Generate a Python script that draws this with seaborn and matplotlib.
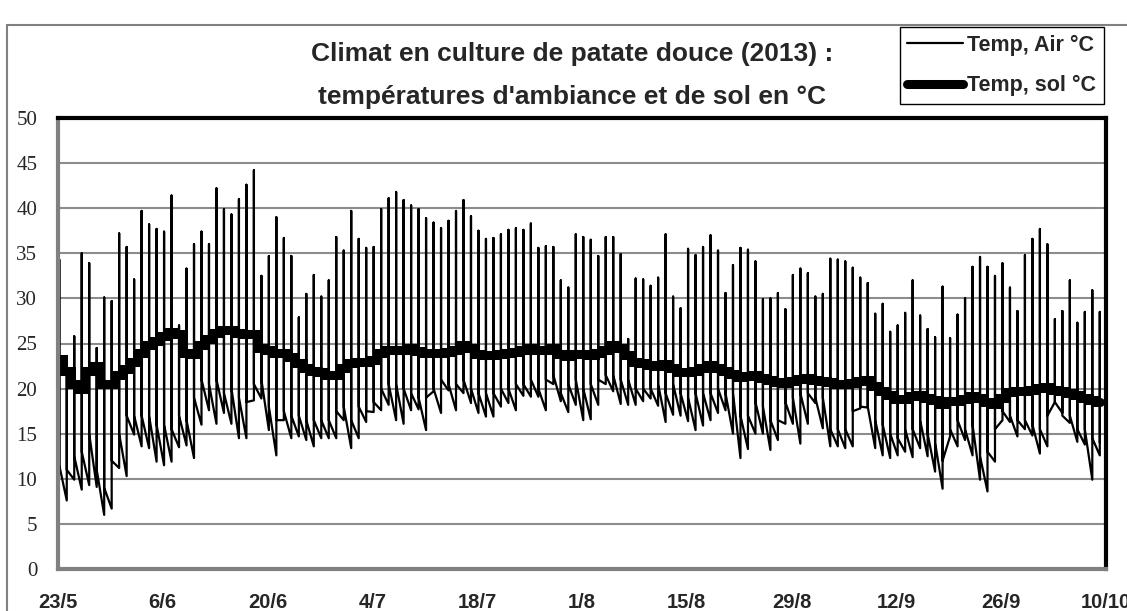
import numpy as np
import pandas as pd
import matplotlib
matplotlib.use("Agg")
import matplotlib.pyplot as plt
from matplotlib.lines import Line2D
import seaborn as sns

# --- data: one value per day, 23/5 -> 9/10 ---
# daily peak of air temperature (°C)
air_max = [34.3, 23.5, 25.8, 35.0, 33.9, 24.5, 30.1, 29.7, 37.2, 35.7, 32.1, 39.7,
           38.2, 37.7, 37.4, 41.4, 27.0, 33.3, 36.0, 37.4, 36.0, 42.2, 39.9, 39.3,
           41.0, 42.6, 44.2, 32.5, 34.7, 39.0, 36.7, 34.7, 27.9, 30.5, 32.6, 30.2,
           32.0, 36.8, 35.3, 39.7, 36.6, 35.6, 35.7, 39.9, 41.1, 41.8, 40.9, 40.3,
           39.9, 38.9, 38.4, 37.8, 38.6, 39.7, 40.9, 39.1, 37.5, 36.6, 36.7, 37.1,
           37.6, 37.8, 37.6, 38.3, 35.6, 35.8, 35.7, 32.0, 31.2, 37.1, 36.8, 36.5,
           34.7, 36.8, 36.8, 34.9, 25.5, 32.2, 32.1, 31.4, 32.3, 37.1, 30.2, 28.9,
           35.5, 34.8, 35.7, 37.0, 35.3, 30.6, 33.7, 35.6, 35.4, 34.1, 29.9, 30.0,
           30.6, 28.8, 32.6, 33.3, 32.8, 30.2, 30.5, 34.4, 34.3, 34.1, 33.4, 32.3,
           31.7, 28.3, 29.4, 26.3, 27.0, 28.4, 32.0, 28.1, 26.6, 25.7, 31.3, 25.6,
           28.2, 30.0, 33.5, 34.6, 33.5, 32.5, 33.9, 31.2, 28.6, 34.8, 36.6, 37.7,
           36.0, 27.7, 28.6, 32.0, 27.3, 28.5, 30.9, 28.5]
# daily minimum just before the peak (°C)
air_min = [11.3, 7.6, 9.9, 8.8, 9.3, 9.1, 6.0, 6.7, 11.2, 10.3, 14.9, 13.6,
           13.4, 11.9, 11.5, 11.9, 13.5, 13.7, 12.3, 16.0, 17.6, 16.1, 17.3, 16.1,
           14.5, 14.5, 18.7, 18.9, 15.4, 12.6, 16.5, 14.5, 14.7, 14.3, 13.6, 14.5,
           14.5, 14.5, 16.5, 13.4, 14.5, 16.3, 17.4, 17.6, 18.2, 16.5, 16.1, 17.6,
           17.7, 15.4, 19.7, 17.3, 19.8, 17.6, 19.5, 18.4, 17.3, 16.9, 16.9, 18.0,
           18.4, 17.6, 19.2, 19.1, 19.1, 17.6, 20.5, 18.6, 17.4, 18.2, 16.5, 16.6,
           18.2, 20.5, 19.7, 18.3, 18.2, 18.2, 18.6, 18.9, 18.1, 16.3, 17.1, 17.0,
           16.4, 15.4, 15.9, 16.5, 17.3, 17.6, 15.0, 12.3, 13.3, 15.0, 15.0, 13.2,
           14.3, 16.1, 16.1, 13.9, 16.1, 18.4, 15.6, 13.6, 13.6, 13.4, 13.6, 17.8,
           17.9, 13.4, 12.6, 12.3, 12.6, 13.0, 12.4, 13.4, 12.5, 10.8, 8.9, 14.7,
           13.6, 14.3, 12.6, 9.9, 8.6, 11.9, 16.5, 16.3, 14.7, 15.5, 14.8, 12.8,
           13.6, 18.5, 17.3, 16.2, 14.1, 13.8, 9.9, 12.6]
# value right after the peak, start of the night decline (°C)
air_eve = [11.5, 11.0, 12.5, 13.0, 15.0, 11.0, 9.0, 12.0, 15.0, 17.0, 17.0, 17.0,
           17.0, 16.0, 16.0, 15.5, 17.0, 16.5, 19.0, 21.0, 20.5, 21.0, 19.5, 20.0,
           19.0, 18.5, 20.5, 21.0, 18.0, 16.5, 17.5, 17.0, 17.0, 16.5, 16.5, 16.5,
           16.5, 17.5, 18.0, 16.5, 18.0, 17.5, 18.5, 20.0, 20.5, 20.5, 20.0, 19.5,
           19.0, 19.0, 20.0, 21.0, 20.5, 20.5, 21.0, 20.0, 19.5, 19.5, 19.5, 20.0,
           20.0, 20.5, 20.5, 21.0, 20.0, 21.0, 21.5, 19.5, 20.5, 21.0, 20.0, 20.5,
           21.0, 21.5, 21.5, 21.0, 21.0, 20.0, 20.0, 20.0, 20.5, 19.5, 20.5, 19.5,
           19.0, 19.5, 19.5, 19.5, 20.0, 19.5, 19.5, 17.0, 17.0, 18.5, 18.0, 16.5,
           16.5, 18.5, 19.0, 19.5, 19.5, 19.0, 19.0, 15.5, 15.5, 15.5, 17.5, 18.0,
           18.0, 16.5, 16.0, 15.0, 14.5, 15.5, 15.5, 16.5, 15.0, 14.0, 12.0, 15.5,
           16.5, 15.5, 16.0, 12.5, 13.0, 15.5, 17.5, 17.0, 16.5, 16.5, 16.0, 15.5,
           17.0, 18.5, 17.0, 17.0, 15.5, 15.5, 14.5, 14.0]
# soil temperature (°C)
soil = [23.3, 22.0, 20.5, 20.0, 22.0, 22.5, 20.5, 20.5, 21.5, 22.2, 23.0, 24.0,
        24.8, 25.3, 25.8, 26.3, 26.0, 24.0, 23.8, 24.8, 25.5, 26.2, 26.5, 26.5,
        26.2, 26.0, 26.0, 24.5, 24.3, 24.0, 24.0, 23.5, 22.8, 22.3, 22.0, 21.8,
        21.5, 21.5, 22.3, 22.8, 23.0, 23.0, 23.2, 24.0, 24.3, 24.3, 24.3, 24.5,
        24.2, 23.9, 23.9, 24.0, 24.1, 24.3, 24.8, 24.5, 23.8, 23.7, 23.7, 23.8,
        24.0, 24.1, 24.3, 24.5, 24.3, 24.3, 24.5, 23.8, 23.6, 23.8, 23.8, 23.7,
        24.0, 24.3, 24.8, 24.5, 23.7, 23.0, 22.8, 22.6, 22.5, 22.7, 22.3, 21.8,
        21.8, 22.0, 22.3, 22.6, 22.3, 21.9, 21.6, 21.3, 21.4, 21.5, 21.2, 20.9,
        20.7, 20.6, 20.8, 21.1, 21.2, 21.0, 20.8, 20.7, 20.5, 20.5, 20.6, 20.8,
        21.0, 20.3, 19.7, 19.3, 18.9, 18.8, 19.2, 19.3, 19.0, 18.7, 18.3, 18.6,
        18.6, 18.9, 19.2, 19.0, 18.5, 18.3, 19.0, 19.6, 19.7, 19.7, 19.9, 20.1,
        20.2, 19.9, 19.7, 19.5, 19.3, 19.0, 18.7, 18.5]

tick_labels = ["23/5", "6/6", "20/6", "4/7", "18/7", "1/8", "15/8", "29/8",
               "12/9", "26/9", "10/10"]

# peak hour inside each day (fraction of a day after midnight)
peak_offset = 0.17

# long tables for seaborn
days = np.arange(len(air_max)) + peak_offset
air = pd.DataFrame({
    "jour": np.repeat(days, 3),
    "temp": np.column_stack([air_min, air_max, air_eve]).ravel(),
})
sol = pd.DataFrame({"jour": days, "temp": soil})

sns.set_style("white")
plt.rcParams["font.family"] = ["Liberation Sans", "DejaVu Sans"]

W, H = 1127, 611
fig = plt.figure(figsize=(W / 100, H / 100), dpi=100)
ax = fig.add_axes([58 / W, 1 - 569 / H, (1106 - 58) / W, (569 - 118) / H])

sns.lineplot(data=air, x="jour", y="temp", sort=False, estimator=None,
             color="black", lw=1.6, ax=ax, label="Temp, Air °C")
sns.lineplot(data=sol, x="jour", y="temp", estimator=None, drawstyle="steps-mid",
             color="black", lw=6.5, solid_joinstyle="miter", ax=ax,
             label="Temp, sol °C")

ax.set_xlim(0, 140)
ax.set_ylim(0, 50)
ax.set_xticks(range(0, 141, 14))
ax.set_xticklabels(tick_labels, fontweight="bold", fontsize=14.5)
ax.set_yticks(range(0, 51, 5))
for lab in ax.get_yticklabels():
    lab.set_fontfamily("Liberation Serif")
    lab.set_fontsize(15)
ax.tick_params(axis="x", length=0, pad=17)
ax.tick_params(axis="y", length=0, pad=15)
ax.set_xlabel("")
ax.set_ylabel("")

ax.yaxis.grid(True, color="#8c8c8c", lw=1.5)
ax.set_axisbelow(True)

# Excel-like frame: black top/right, grey left/bottom
for side in ["top", "right"]:
    ax.spines[side].set_color("black")
    ax.spines[side].set_linewidth(3)
for side in ["left", "bottom"]:
    ax.spines[side].set_color("#808080")
    ax.spines[side].set_linewidth(3)
ax.axvline(0, color="black", lw=1)
ax.axhline(0, color="black", lw=1)

ax.get_legend().remove()
leg = fig.legend(loc="upper right", bbox_to_anchor=(1104 / W, 1 - 27 / H),
                 prop={"weight": "bold", "size": 15.5}, frameon=True,
                 fancybox=False, edgecolor="black", framealpha=1,
                 handlelength=2.6, borderpad=0.35, labelspacing=0.9,
                 handletextpad=0.2, borderaxespad=0)
leg.get_frame().set_linewidth(1)
leg.get_lines()[1].set_drawstyle("default")

fig.text(572 / W, 1 - 54 / H, "Climat en culture de patate douce (2013) :",
         ha="center", va="center", fontsize=19, fontweight="bold")
fig.text(572 / W, 1 - 97 / H, "températures d'ambiance et de sol en °C",
         ha="center", va="center", fontsize=19, fontweight="bold")

# outer chart border (grey, cut on the right and bottom)
fig.add_artist(Line2D([7 / W, 7 / W], [0, 1 - 25 / H], color="#808080", lw=1.5))
fig.add_artist(Line2D([7 / W, 1], [1 - 25 / H, 1 - 25 / H], color="#808080", lw=1.5))

fig.savefig("out.png", dpi=100)
